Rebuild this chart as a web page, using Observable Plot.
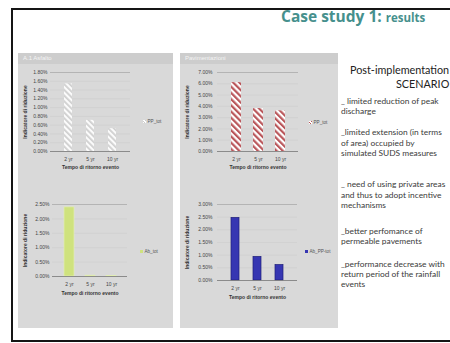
<!DOCTYPE html>
<html><head><meta charset="utf-8">
<script src="https://cdn.jsdelivr.net/npm/d3@7"></script>
<script src="https://cdn.jsdelivr.net/npm/@observablehq/plot@0.6"></script>
<style>
body{margin:0;background:#fff;}
#slide{position:relative;width:450px;height:343px;overflow:hidden;background:#fff;font-family:Lato,sans-serif;}
.abs{position:absolute;}
.txt{position:absolute;white-space:nowrap;font-size:8.4px;color:#3a3a3a;line-height:1;}
.leg{position:absolute;white-space:nowrap;font:4.6px 'Liberation Sans',Arial,sans-serif;color:#555;line-height:1;}
.sw{display:inline-block;width:3px;height:3px;margin-right:1.5px;vertical-align:middle;}
</style></head><body>
<div id="slide">
  <div class="abs" style="left:11px;top:8px;width:470px;height:334px;border:2px solid #151515;box-sizing:border-box;"></div>
  <div class="abs" style="left:281px;top:8px;white-space:nowrap;color:#46908d;font-family:'Open Sans',sans-serif;font-weight:bold;line-height:16px;"><span style="font-size:15.5px;">Case study 1: </span><span style="font-size:11.5px;">results</span></div>
  <div class="abs" style="left:18px;top:53px;width:155px;height:275px;background:#d9d9d9;"></div>
  <div class="abs" style="left:18px;top:53px;width:155px;height:11px;background:#cdcdcd;"></div>
  <div class="abs" style="left:180px;top:53px;width:158px;height:275px;background:#d9d9d9;"></div>
  <div class="abs" style="left:180px;top:53px;width:158px;height:11px;background:#cdcdcd;"></div>
  <div class="leg" style="left:23px;top:55px;font-size:6px;color:#f4f4f4;">A.1 Asfalto</div>
  <div class="leg" style="left:185px;top:55px;font-size:6px;color:#f4f4f4;">Pavimentazioni</div>
  <div id="charts"></div>
  <div id="text"></div>
</div>
<script>
// ---- data ----
const periods = ["2 yr", "5 yr", "10 yr"];
const valuesTopLeft = [1.54, 0.71, 0.52];
const valuesTopRight = [6.1, 3.8, 3.6];
const valuesBottomLeft = [2.40, 0.03, 0.02];
const valuesBottomRight = [2.47, 0.93, 0.61];
const ticksTopLeft = [0, 0.2, 0.4, 0.6, 0.8, 1.0, 1.2, 1.4, 1.6, 1.8];
const ticksTopRight = [0, 1, 2, 3, 4, 5, 6, 7];
const ticksBottomLeft = [0, 0.5, 1.0, 1.5, 2.0, 2.5];
const ticksBottomRight = [0, 0.5, 1.0, 1.5, 2.0, 2.5, 3.0];
const legendLabels = ["PP_tot", "PP_tot", "Ab_tot", "Ab_PP-tot"];
const yTitle = "Indicatore di riduzione";
const xTitle = "Tempo di ritorno evento";
const textLines = [
  "_ limited reduction of peak",
  "discharge",
  "_limited extension (in terms",
  "of area) occupied by",
  "simulated SUDS measures",
  "_ need of using private areas",
  "and thus to adopt incentive",
  "mechanisms",
  "_better perfomance of",
  "permeable pavements",
  "_performance decrease with",
  "return period of the rainfall",
  "events"
];
const textY = [101, 111, 132, 143, 153, 184, 195, 205, 231, 241, 264, 274, 284];

// ---- helpers ----
const host = document.getElementById("charts");
function chart(o) {
  const data = periods.map((p, i) => ({period: p, value: o.values[i]}));
  const max = o.ticks[o.ticks.length - 1];
  const svg = Plot.plot({
    width: o.width, height: o.height,
    marginLeft: o.mL, marginRight: 5, marginTop: 8, marginBottom: o.mB,
    style: {background: "transparent", fontFamily: "'Liberation Sans', Arial, sans-serif", fontSize: "5px", color: "#444", overflow: "visible"},
    x: {domain: periods, padding: o.padding, label: null},
    y: {domain: [0, max], label: null},
    marks: [
      Plot.ruleY(o.ticks.slice(1, -1), {stroke: "#cacaca", strokeWidth: 0.5}),
      Plot.ruleY([max], {stroke: "#a4a4a4", strokeWidth: 0.7}),
      Plot.barY(data, {x: "period", y: "value", fill: o.fill, stroke: o.stroke || "none", strokeWidth: 0.7}),
      Plot.ruleY([0], {stroke: "#777", strokeWidth: 0.8}),
      Plot.axisY({ticks: o.ticks, tickFormat: d => d.toFixed(2) + "%", tickSize: 0, tickPadding: o.tp, label: null}),
      Plot.axisX({tickSize: 0, tickPadding: 5.5, label: null}),
      Plot.text([yTitle], {text: d => d, frameAnchor: "left", textAnchor: "middle", lineAnchor: "middle", rotate: -90, dx: -(o.mL - 5), fontWeight: "bold", fill: "#333"}),
      Plot.text([xTitle], {text: d => d, frameAnchor: "bottom", textAnchor: "middle", lineAnchor: "middle", dy: o.xt, fontWeight: "bold", fill: "#333"})
    ]
  });
  if (o.defs) {
    const defs = document.createElementNS("http://www.w3.org/2000/svg", "defs");
    defs.innerHTML = o.defs;
    svg.insertBefore(defs, svg.firstChild);
  }
  svg.style.position = "absolute";
  svg.style.left = o.left + "px";
  svg.style.top = o.top + "px";
  host.appendChild(svg);
  const leg = document.createElement("div");
  leg.className = "leg";
  leg.style.left = o.lx + "px";
  leg.style.top = (o.ly - 2.5) + "px";
  leg.innerHTML = `<span class="sw" style="background:${o.swatch}"></span>${o.legend}`;
  document.getElementById("slide").appendChild(leg);
}

chart({values: valuesTopLeft, ticks: ticksTopLeft, left: 20, top: 64, width: 115, height: 110, mL: 30, mB: 23, tp: 3, xt: 16, padding: 0.62,
  fill: "url(#hatchGrey)",
  defs: `<pattern id="hatchGrey" patternUnits="userSpaceOnUse" width="4" height="4" patternTransform="rotate(-45)"><rect width="4" height="4" fill="#fbfbfb"/><rect width="1.8" height="4" fill="#cfcfcf"/></pattern>`,
  legend: legendLabels[0], lx: 143, ly: 122, swatch: "repeating-linear-gradient(45deg,#fff 0 1px,#ccc 1px 2px)"});

chart({values: valuesTopRight, ticks: ticksTopRight, left: 182, top: 64, width: 121, height: 110, mL: 35, mB: 23, tp: 5, xt: 16, padding: 0.56,
  fill: "url(#hatchRed)",
  defs: `<pattern id="hatchRed" patternUnits="userSpaceOnUse" width="4.4" height="4.4" patternTransform="rotate(-45)"><rect width="4.4" height="4.4" fill="#fff"/><rect width="2.2" height="4.4" fill="#b9565a"/></pattern>`,
  legend: legendLabels[1], lx: 309, ly: 123, swatch: "repeating-linear-gradient(45deg,#fff 0 1px,#b9565a 1px 2px)"});

chart({values: valuesBottomLeft, ticks: ticksBottomLeft, left: 20, top: 196, width: 112, height: 103, mL: 32, mB: 23, tp: 3, xt: 17, padding: 0.54,
  fill: "#cfe27e", stroke: "#e2eeb4",
  legend: legendLabels[2], lx: 140, ly: 252, swatch: "#cfe27e"});

chart({values: valuesBottomRight, ticks: ticksBottomRight, left: 182, top: 196, width: 120, height: 107, mL: 35, mB: 23, tp: 5, xt: 17, padding: 0.62,
  fill: "#3636b2", stroke: "#1e1e78",
  legend: legendLabels[3], lx: 305, ly: 252, swatch: "#3636b2"});

// ---- text column ----
const tHost = document.getElementById("text");
function line(str, x, y, size, color) {
  const d = document.createElement("div");
  d.className = "txt";
  d.style.left = x + "px";
  d.style.top = (y - size / 2) + "px";
  d.style.fontSize = size + "px";
  if (color) d.style.color = color;
  d.textContent = str;
  tHost.appendChild(d);
}
line("Post-implementation", 350, 70, 10.8, "#222");
line("SCENARIO", 396, 84, 10.8, "#222");
textLines.forEach((t, i) => line(t, 341, textY[i], 8.4));
</script>
</body></html>
